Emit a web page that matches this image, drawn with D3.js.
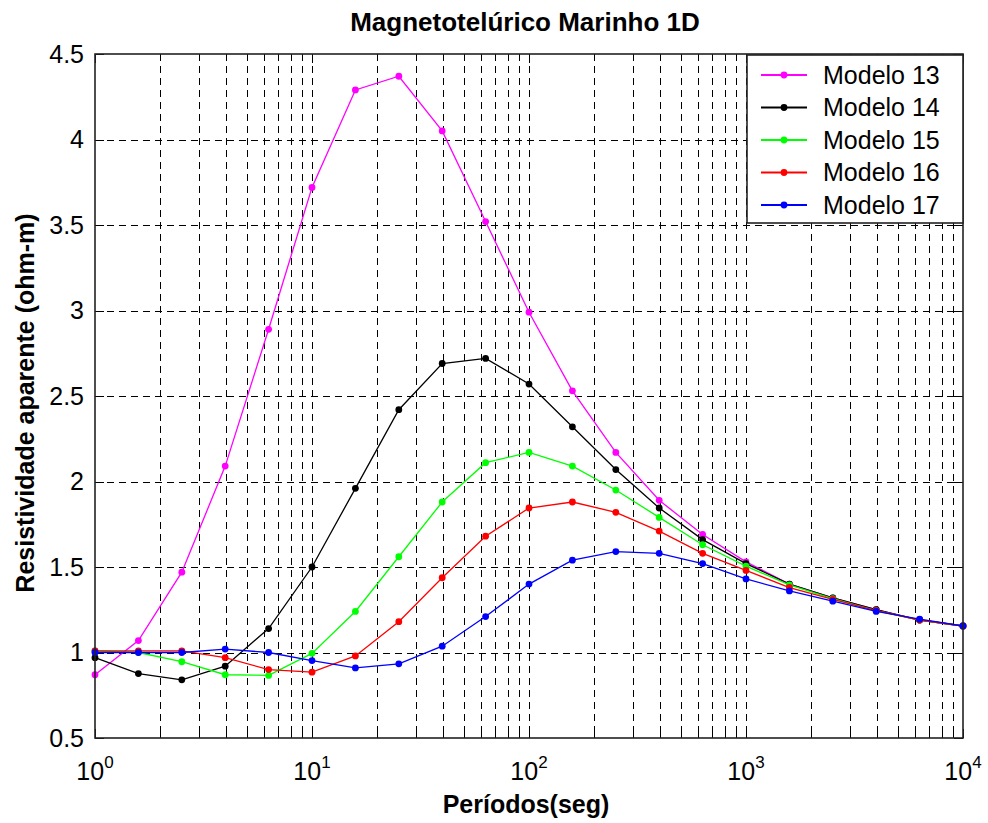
<!DOCTYPE html>
<html>
<head>
<meta charset="utf-8">
<script src="https://cdn.jsdelivr.net/npm/d3@7"></script>
<style>
    body { margin: 0; background: #fff; }
    text { font-family: Arial, "Liberation Sans", sans-serif; fill: #000; }
</style>
</head>
<body>
<div id="root"></div>
<script>
// periods (s), 5 per decade
let periods = [1, 1.585, 2.512, 3.981, 6.310, 10, 15.85, 25.12, 39.81, 63.10,
    100, 158.5, 251.2, 398.1, 631.0, 1000, 1585, 2512, 3981, 6310, 10000];

let modelo13 = [0.87, 1.07, 1.47, 2.09, 2.89, 3.72, 4.29, 4.37, 4.05, 3.52,
    2.99, 2.53, 2.17, 1.89, 1.69, 1.53, 1.40, 1.32, 1.25, 1.19, 1.155];
let modelo14 = [0.97, 0.877, 0.84, 0.92, 1.14, 1.50, 1.96, 2.42, 2.69, 2.72,
    2.57, 2.32, 2.07, 1.845, 1.66, 1.52, 1.40, 1.32, 1.25, 1.19, 1.155];
let modelo15 = [1.01, 1.00, 0.946, 0.87, 0.866, 0.995, 1.24, 1.56, 1.88, 2.11,
    2.17, 2.09, 1.95, 1.79, 1.63, 1.505, 1.395, 1.315, 1.245, 1.19, 1.155];
let modelo16 = [1.01, 1.01, 1.01, 0.97, 0.90, 0.885, 0.98, 1.18, 1.437, 1.68,
    1.845, 1.88, 1.82, 1.71, 1.58, 1.48, 1.38, 1.31, 1.245, 1.19, 1.155];
let modelo17 = [1.00, 1.00, 1.00, 1.02, 1.00, 0.953, 0.91, 0.934, 1.037, 1.21,
    1.40, 1.54, 1.59, 1.58, 1.52, 1.43, 1.36, 1.30, 1.24, 1.195, 1.155];

let seriesNames = ['Modelo 13', 'Modelo 14', 'Modelo 15', 'Modelo 16', 'Modelo 17'];
let seriesValues = [modelo13, modelo14, modelo15, modelo16, modelo17];
let seriesColors = ['#ff00ff', '#000000', '#00ff00', '#ff0000', '#0000ff'];

let yTicks = [0.5, 1, 1.5, 2, 2.5, 3, 3.5, 4, 4.5];
let yTickLabels = ['0.5', '1', '1.5', '2', '2.5', '3', '3.5', '4', '4.5'];
let xMajor = [1, 10, 100, 1000, 10000];
let xExponents = ['0', '1', '2', '3', '4'];

let margin = {left: 95, right: 25, top: 54, bottom: 85};
let width = 988, height = 823;

let x = d3.scaleLog().domain([1, 10000]).range([margin.left, width - margin.right]);
let y = d3.scaleLinear().domain([0.5, 4.5]).range([height - margin.bottom, margin.top]);

let svg = d3.select('#root').append('svg')
    .attr('width', width)
    .attr('height', height);

let x0 = x.range()[0], x1 = x.range()[1];
let y0 = y.range()[0], y1 = y.range()[1];

// minor + major ticks on the log axis
let xAll = x.ticks().filter(t => t >= 1 && t <= 10000);
let xMinor = xAll.filter(t => !xMajor.includes(t));

// grid
let grid = svg.append('g')
    .attr('stroke', '#000')
    .attr('stroke-width', 1)
    .attr('shape-rendering', 'crispEdges')
    .attr('stroke-dasharray', '7,5');

grid.selectAll('line.v')
    .data(xAll.filter(t => t > 1 && t < 10000))
    .enter().append('line')
    .attr('class', 'v')
    .attr('x1', d => Math.round(x(d)) + 0.5)
    .attr('x2', d => Math.round(x(d)) + 0.5)
    .attr('y1', y1)
    .attr('y2', y0);

grid.selectAll('line.h')
    .data(yTicks.filter(t => t > 0.5 && t < 4.5))
    .enter().append('line')
    .attr('class', 'h')
    .attr('x1', x0)
    .attr('x2', x1)
    .attr('y1', d => Math.round(y(d)) + 0.5)
    .attr('y2', d => Math.round(y(d)) + 0.5);

// ticks, inward, on all four sides
let ticks = svg.append('g')
    .attr('stroke', '#000')
    .attr('stroke-width', 1)
    .attr('shape-rendering', 'crispEdges');

function xTicks(data, len) {
    ticks.selectAll(null).data(data).enter().append('line')
        .attr('x1', d => Math.round(x(d)) + 0.5).attr('x2', d => Math.round(x(d)) + 0.5)
        .attr('y1', y0).attr('y2', y0 - len);
    ticks.selectAll(null).data(data).enter().append('line')
        .attr('x1', d => Math.round(x(d)) + 0.5).attr('x2', d => Math.round(x(d)) + 0.5)
        .attr('y1', y1).attr('y2', y1 + len);
}
xTicks(xMajor, 9);
xTicks(xMinor, 5);

ticks.selectAll(null).data(yTicks).enter().append('line')
    .attr('x1', x0).attr('x2', x0 + 9)
    .attr('y1', d => Math.round(y(d)) + 0.5).attr('y2', d => Math.round(y(d)) + 0.5);
ticks.selectAll(null).data(yTicks).enter().append('line')
    .attr('x1', x1).attr('x2', x1 - 9)
    .attr('y1', d => Math.round(y(d)) + 0.5).attr('y2', d => Math.round(y(d)) + 0.5);

// series
let line = d3.line()
    .x((d, i) => x(periods[i]))
    .y(d => y(d));

let series = svg.selectAll('g.series')
    .data(seriesValues)
    .enter().append('g')
    .attr('class', 'series');

series.append('path')
    .attr('d', d => line(d))
    .attr('fill', 'none')
    .attr('stroke', (d, i) => seriesColors[i])
    .attr('stroke-width', 1.3);

series.each(function(vals, k) {
    d3.select(this).selectAll('circle')
        .data(vals)
        .enter().append('circle')
        .attr('cx', (d, i) => x(periods[i]))
        .attr('cy', d => y(d))
        .attr('r', 3.4)
        .attr('fill', seriesColors[k]);
});

// axes box
svg.append('rect')
    .attr('x', x0)
    .attr('y', y1)
    .attr('width', x1 - x0)
    .attr('height', y0 - y1)
    .attr('fill', 'none')
    .attr('stroke', '#222')
    .attr('stroke-width', 1.6);

// tick labels
svg.selectAll('text.ylab')
    .data(yTicks)
    .enter().append('text')
    .attr('class', 'ylab')
    .attr('x', x0 - 11)
    .attr('y', d => y(d))
    .attr('dy', '0.35em')
    .attr('text-anchor', 'end')
    .style('font-size', '25px')
    .text((d, i) => yTickLabels[i]);

let xl = svg.selectAll('text.xlab')
    .data(xMajor)
    .enter().append('text')
    .attr('class', 'xlab')
    .attr('x', d => x(d))
    .attr('y', y0 + 42)
    .attr('text-anchor', 'middle')
    .style('font-size', '25px');
xl.append('tspan').text('10');
xl.append('tspan')
    .attr('dy', -12)
    .style('font-size', '17px')
    .text((d, i) => xExponents[i]);

// legend
let legend = svg.append('g');
let lgX = 747, lgY = y1 + 1;

legend.append('rect')
    .attr('x', lgX)
    .attr('y', lgY)
    .attr('width', x1 - lgX)
    .attr('height', 168)
    .attr('fill', '#fff')
    .attr('stroke', '#222')
    .attr('stroke-width', 1.6);

let items = legend.selectAll('g.item')
    .data(seriesNames)
    .enter().append('g')
    .attr('class', 'item')
    .attr('transform', (d, i) => `translate(${lgX}, ${lgY + 20 + i * 32.5})`);

items.append('line')
    .attr('x1', 14).attr('x2', 60)
    .attr('y1', 0).attr('y2', 0)
    .attr('stroke', (d, i) => seriesColors[i])
    .attr('stroke-width', 1.8);
items.append('circle')
    .attr('cx', 37).attr('cy', 0).attr('r', 3.4)
    .attr('fill', (d, i) => seriesColors[i]);
items.append('text')
    .attr('x', 76)
    .attr('y', 0)
    .attr('dy', '0.35em')
    .style('font-size', '25px')
    .text(d => d);

// titles
svg.append('text')
    .attr('x', 525)
    .attr('y', 31)
    .attr('text-anchor', 'middle')
    .style('font-size', '26px')
    .style('font-weight', 'bold')
    .text('Magnetotelúrico Marinho 1D');

svg.append('text')
    .attr('x', 526)
    .attr('y', 813)
    .attr('text-anchor', 'middle')
    .style('font-size', '25px')
    .style('font-weight', 'bold')
    .text('Períodos(seg)');

svg.append('text')
    .attr('transform', 'translate(34, 403) rotate(-90)')
    .attr('text-anchor', 'middle')
    .style('font-size', '25px')
    .style('font-weight', 'bold')
    .text('Resistividade aparente (ohm-m)');
</script>
</body>
</html>
